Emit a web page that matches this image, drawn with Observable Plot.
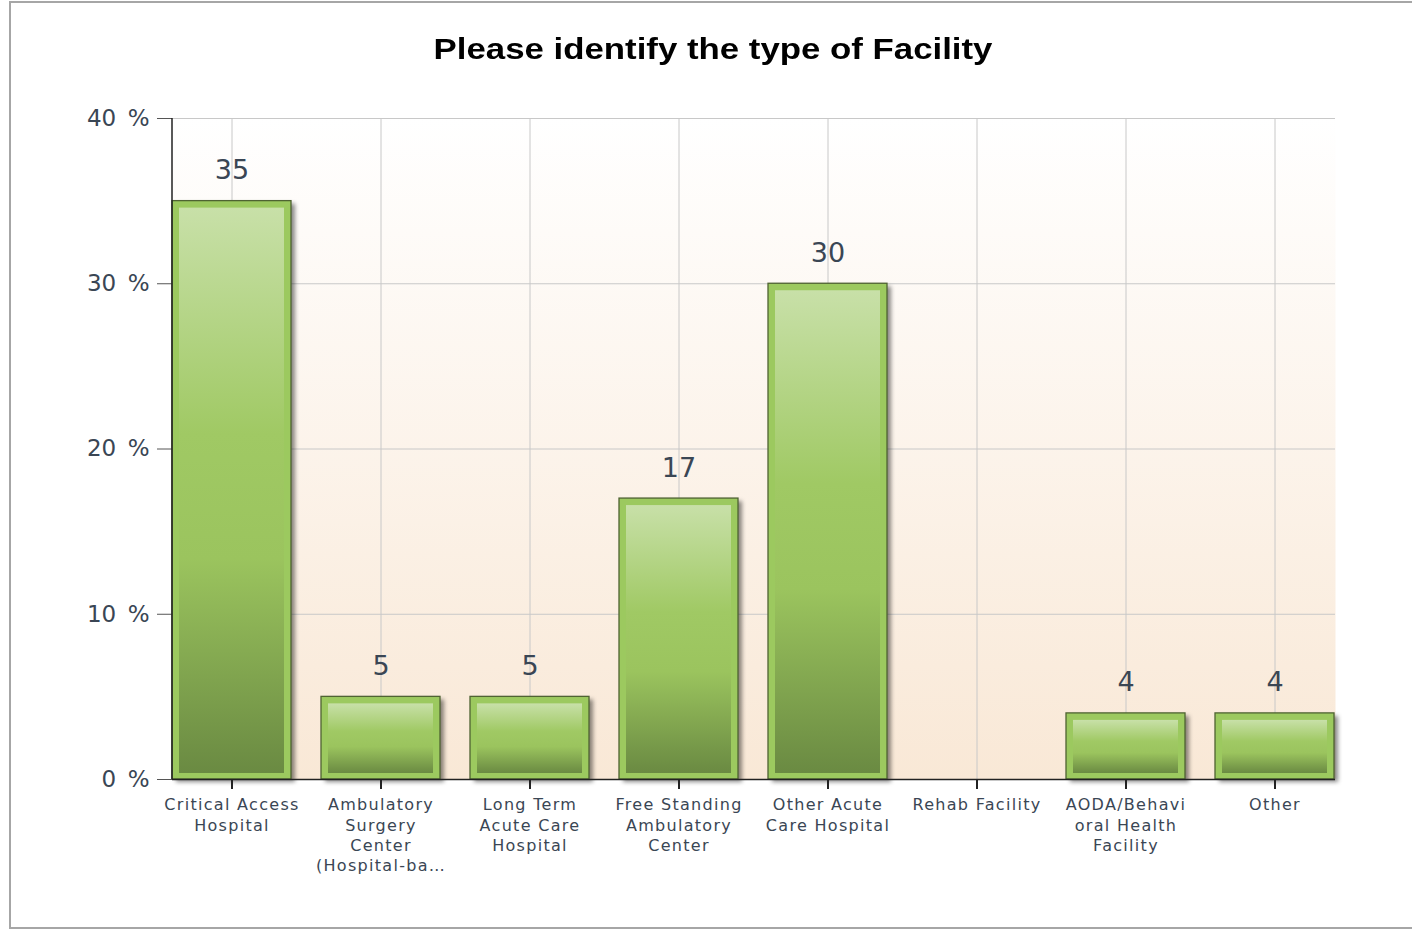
<!DOCTYPE html>
<html>
<head>
<meta charset="utf-8">
<script src="https://cdn.jsdelivr.net/npm/d3@7"></script>
<script src="https://cdn.jsdelivr.net/npm/@observablehq/plot@0.6"></script>
<style>
  html, body { margin: 0; padding: 0; background: #fff; }
  #wrap { position: relative; width: 1412px; height: 930px; overflow: hidden; }
  #frame { position: absolute; left: 9px; top: 1px; width: 1420px; height: 928px; border: 2px solid #a6a6a6; box-sizing: border-box; }
  #title { position: absolute; left: 0; top: 31px; width: 1426px; text-align: center;
    font-family: "Liberation Sans", Arial, sans-serif; font-weight: bold; font-size: 29px; color: #000;
    transform: scaleX(1.2); transform-origin: 713px 0; white-space: nowrap; line-height: 36px; }
  #chart { position: absolute; left: 0; top: 90px; }
  #chart svg g[aria-label="x-axis tick label"] text { letter-spacing: 1.3px; }
</style>
</head>
<body>
<div id="wrap">
  <div id="frame"></div>
  <div id="title">Please identify the type of Facility</div>
  <div id="chart"></div>
</div>
<script>
const categories = [
  "Critical Access Hospital",
  "Ambulatory Surgery Center (Hospital-based)",
  "Long Term Acute Care Hospital",
  "Free Standing Ambulatory Center",
  "Other Acute Care Hospital",
  "Rehab Facility",
  "AODA/Behavioral Health Facility",
  "Other"
];
const tickLabels = [
  "Critical Access\nHospital",
  "Ambulatory\nSurgery\nCenter\n(Hospital-ba…",
  "Long Term\nAcute Care\nHospital",
  "Free Standing\nAmbulatory\nCenter",
  "Other Acute\nCare Hospital",
  "Rehab Facility",
  "AODA/Behavi\noral Health\nFacility",
  "Other"
];
const values = [35, 5, 5, 17, 30, 0, 4, 4];
const yTicks = [0, 10, 20, 30, 40];

const data = categories.map((c, i) => ({category: c, value: values[i], label: tickLabels[i]}));
const barsData = data.filter(d => d.value > 0);
const labelOf = new Map(data.map(d => [d.category, d.label]));

const textColor = "#3a4654";

const chart = Plot.plot({
  width: 1412,
  height: 840,
  marginLeft: 172,
  marginRight: 77,
  marginTop: 28,
  marginBottom: 151,
  style: {fontFamily: "DejaVu Sans, sans-serif", background: "transparent", overflow: "visible"},
  x: {domain: categories, paddingInner: 0.2, paddingOuter: 0, align: 0.5, label: null},
  y: {domain: [0, 40], label: null},
  marks: [
    Plot.frame({fill: "url(#bgGrad)", stroke: "none"}),
    Plot.gridY(yTicks, {stroke: "#c8c8c8", strokeOpacity: 1}),
    Plot.gridX(categories, {stroke: "#c8c8c8", strokeOpacity: 1}),
    // shadow
    Plot.barY(barsData, {x: "category", y: "value", fill: "#000", fillOpacity: 0.45, dx: 4, dy: 3, className: "shadow"}),
    // outer bar
    Plot.barY(barsData, {x: "category", y: "value", fill: "#9cc95f", stroke: "#4f6332", strokeWidth: 1.3}),
    // inner gradient
    Plot.barY(barsData, {x: "category", y: "value", fill: "url(#barGrad)", insetLeft: 7, insetRight: 7, insetTop: 7, insetBottom: 6}),
    Plot.text(barsData, {x: "category", y: "value", text: d => String(d.value), dy: -22, fontSize: 27, fill: textColor, lineAnchor: "bottom"}),
    Plot.ruleY([0], {stroke: "#222", strokeWidth: 1.5}),
    Plot.axisY({ticks: yTicks, tickFormat: d => d + "\u2002%", tickSize: 15, tickPadding: 8, fontSize: 23, fill: textColor, stroke: "#555", anchor: "left"}),
    Plot.axisX({tickSize: 10, tickPadding: 6, fontSize: 16, fill: textColor, stroke: "#222", strokeWidth: 2, tickFormat: c => labelOf.get(c), lineHeight: 1.28}),
  ]
});

// defs for gradients and shadow blur
const svg = d3.select(chart);
const defs = svg.insert("defs", ":first-child");
const bg = defs.append("linearGradient").attr("id", "bgGrad").attr("x1", 0).attr("y1", 0).attr("x2", 0).attr("y2", 1);
bg.append("stop").attr("offset", "0%").attr("stop-color", "#ffffff");
bg.append("stop").attr("offset", "100%").attr("stop-color", "#f9e8d6");
const bar = defs.append("linearGradient").attr("id", "barGrad").attr("x1", 0).attr("y1", 0).attr("x2", 0).attr("y2", 1);
bar.append("stop").attr("offset", "0%").attr("stop-color", "#c8e0a8");
bar.append("stop").attr("offset", "40%").attr("stop-color", "#a0c964");
bar.append("stop").attr("offset", "62%").attr("stop-color", "#9bc45e");
bar.append("stop").attr("offset", "100%").attr("stop-color", "#6a8a42");
const blur = defs.append("filter").attr("id", "blurShadow").attr("x", "-20%").attr("y", "-20%").attr("width", "140%").attr("height", "140%");
blur.append("feGaussianBlur").attr("stdDeviation", 2.2);
svg.selectAll(".shadow").attr("filter", "url(#blurShadow)");

// Y axis vertical line
const yScale = chart.scale("y");
svg.append("line")
  .attr("x1", 172).attr("x2", 172)
  .attr("y1", yScale.apply(40)).attr("y2", yScale.apply(0))
  .attr("stroke", "#222").attr("stroke-width", 1.5);

document.getElementById("chart").appendChild(chart);
</script>
</body>
</html>
